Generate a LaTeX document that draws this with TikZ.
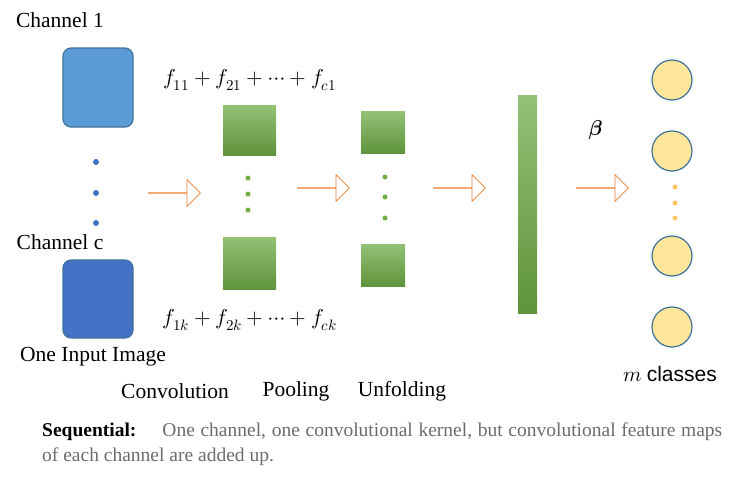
\documentclass[tikz,border=0pt]{standalone}
\usepackage{amsmath}
\usepackage{unicode-math}
\setmainfont{Liberation Serif}
\setmathfont{Latin Modern Math}
\usetikzlibrary{shapes.arrows}
\definecolor{lb}{HTML}{5B9BD5}
\definecolor{db}{HTML}{4472C4}
\definecolor{bd}{HTML}{41719C}
\definecolor{gr}{HTML}{70AD47}
\definecolor{yl}{HTML}{FFE699}
\definecolor{org}{HTML}{ED7D31}
\begin{document}
\begin{tikzpicture}[x=1pt,y=-1pt,
 txt/.style={font=\fontsize{21.5}{24}\selectfont},
 img/.style={draw=bd,line width=1.2pt,rounded corners=8pt},
 gbox/.style={top color=gr!75!white,bottom color=gr!85!black,draw=none},
 arr/.style={single arrow,draw=org,fill=white,anchor=tail,minimum height=52pt,minimum width=26pt,single arrow head extend=13pt,single arrow head indent=0pt,inner sep=0pt,line width=0.7pt},
 cls/.style={circle,draw=bd,fill=yl,line width=1.2pt,minimum size=40pt,inner sep=0pt},
 bdot/.style={circle,fill=db,inner sep=0pt,minimum size=6pt},
 gdot/.style={circle,fill=gr,inner sep=0pt,minimum size=5pt},
 ydot/.style={circle,fill=yl!70!orange,inner sep=0pt,minimum size=5pt}]
\useasboundingbox (0,0) rectangle (732,477);
\node[txt] (ch1) at (60,20) {Channel 1};
\draw[img,fill=lb] (63,48) rectangle (133,127);
\node[bdot] (d1) at (96,162) {};
\node[bdot] (d2) at (96,193) {};
\node[bdot] (d3) at (96,223) {};
\node[txt] (chc) at (60,242) {Channel c};
\draw[img,fill=db] (63,260) rectangle (133,338);
\node[txt] (inp) at (93,357) {One Input Image};
% conv
\node[txt] (f1) at (250,80) {$f_{11}+f_{21}+\cdots+f_{c1}$};
\fill[gbox] (223,105) rectangle (276,155);
\node[gdot] (g1) at (248,178) {};
\node[gdot] (g2) at (248,194) {};
\node[gdot] (g3) at (248,210) {};
\fill[gbox] (223,237) rectangle (276,289);
\node[txt] (fk) at (250,320) {$f_{1k}+f_{2k}+\cdots+f_{ck}$};
% pool
\fill[gbox] (361,111) rectangle (405,153);
\node[gdot] (p1) at (385,177) {};
\node[gdot] (p2) at (385,197) {};
\node[gdot] (p3) at (385,218) {};
\fill[gbox] (361,244) rectangle (405,286);
% bar
\fill[gbox] (518,95) rectangle (537,313);
% arrows
\node[arr] (a1) at (148,193) {};
\node[arr] (a2) at (297,188) {};
\node[arr] (a3) at (433,188) {};
\node[arr] (a4) at (576,188) {};
\node[txt] (beta) at (596,130) {$\symbf{\beta}$};
% classes
\node[cls] (c1) at (672,80) {};
\node[cls] (c2) at (672,151) {};
\node[ydot] (y1) at (675,187) {};
\node[ydot] (y2) at (675,203) {};
\node[ydot] (y3) at (675,218) {};
\node[cls] (c3) at (672,256) {};
\node[cls] (c4) at (672,327) {};
\node[font=\fontsize{21}{24}\selectfont] (mc) at (670,374) {$m$ \fontspec{Liberation Sans}classes};
\node[txt] (l1) at (175,391) {Convolution};
\node[txt] (l2) at (296,391) {Pooling};
\node[txt] (l3) at (402,391) {Unfolding};
\node[anchor=north west,text width=680pt,align=justify,inner sep=0pt,text=gray!85!black,font=\fontsize{19.5}{25}\selectfont] (seq) at (42,423) {\textcolor{black}{\textbf{Sequential:}}\hspace{26pt}One channel, one convolutional kernel, but convolutional feature maps of each channel are added up.};
\end{tikzpicture}
\end{document}
